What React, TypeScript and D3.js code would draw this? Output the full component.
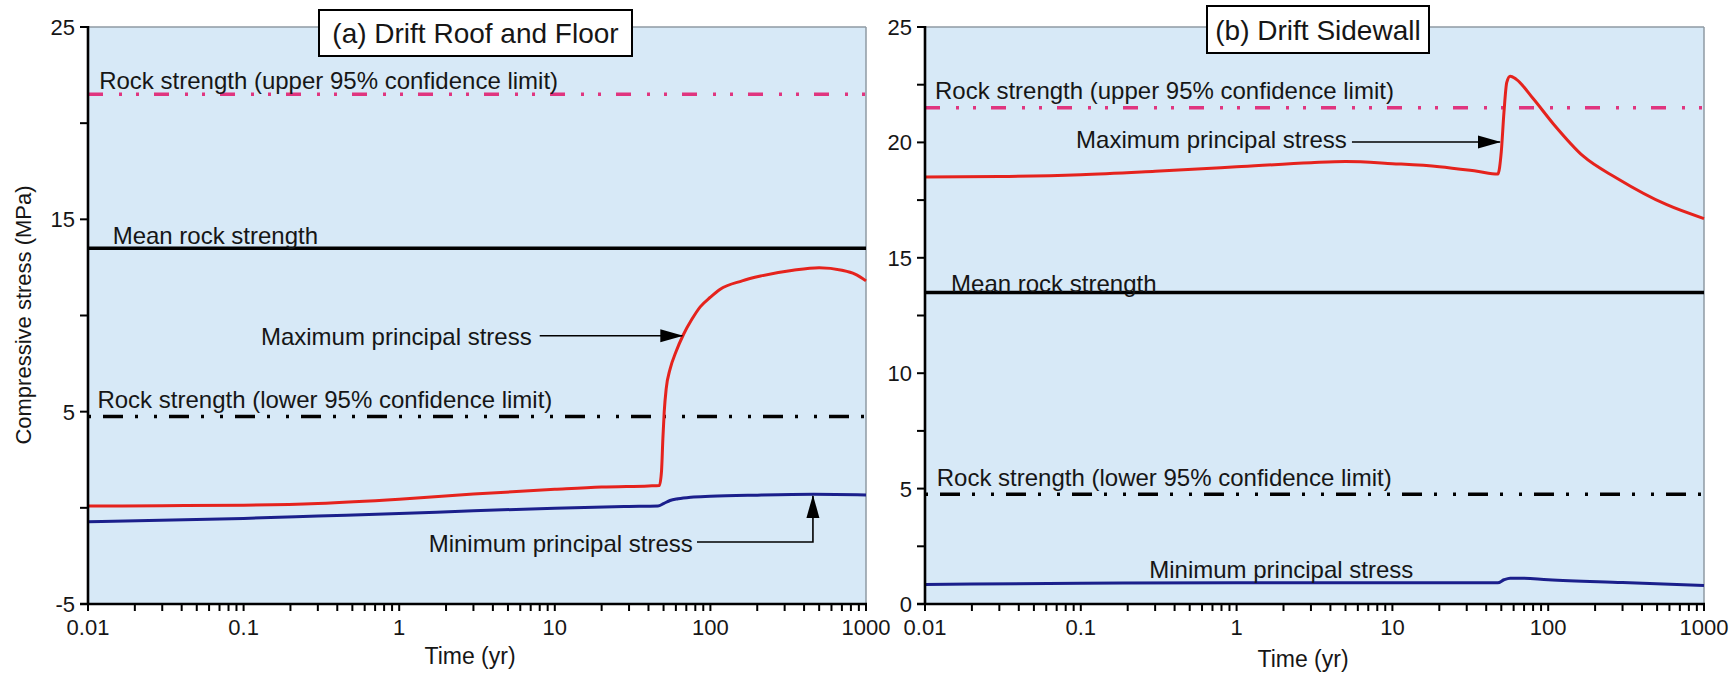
import React from 'react';
import * as d3 from 'd3';

const W = 1732;
const H = 674;

// ---- Data (time in years, stress in MPa) ----
// Panel (a) Drift Roof and Floor
const tMaxA = [0.01, 0.03, 0.1, 0.3, 1, 3, 10, 20, 40, 47, 48.5, 49.5, 50.5, 52, 55, 60, 67, 76, 86, 100, 115, 160, 210, 340, 500, 700, 850, 1000];
const sMaxA = [0.09, 0.11, 0.14, 0.23, 0.45, 0.72, 0.96, 1.08, 1.14, 1.16, 1.9, 3.6, 5.0, 6.2, 7.2, 8.1, 9.0, 9.8, 10.45, 10.95, 11.35, 11.8, 12.05, 12.35, 12.48, 12.35, 12.15, 11.8];
const tMinA = [0.01, 0.1, 0.3, 1, 3, 10, 30, 46, 50, 55, 62, 75, 100, 200, 460, 1000];
const sMinA = [-0.72, -0.55, -0.43, -0.3, -0.15, -0.02, 0.07, 0.1, 0.22, 0.38, 0.47, 0.55, 0.6, 0.66, 0.7, 0.67];

// Panel (b) Drift Sidewall
const tMaxB = [0.01, 0.03, 0.1, 0.3, 1, 3, 5, 10, 20, 35, 47.5, 50, 52, 54.2, 57, 62, 80, 108, 168, 276, 577, 1000];
const sMaxB = [18.5, 18.52, 18.6, 18.75, 18.94, 19.12, 19.17, 19.08, 18.95, 18.75, 18.63, 19.6, 21.3, 22.6, 22.87, 22.75, 21.9, 20.8, 19.4, 18.45, 17.3, 16.7];
const tMinB = [0.01, 0.1, 1, 10, 47.5, 52, 57, 65, 100, 300, 1000];
const sMinB = [0.85, 0.9, 0.92, 0.92, 0.92, 1.05, 1.12, 1.12, 1.05, 0.93, 0.8];

// Rock strength reference values (MPa)
const upperLimit = 21.5;
const meanStrength = 13.5;
const lowerLimit = 4.75;

// Axis ticks
const xDecades = [0.01, 0.1, 1, 10, 100, 1000];
const yMajorA = [-5, 5, 15, 25];
const yMinorA = [0, 10, 20];
const yMajorB = [0, 5, 10, 15, 20, 25];
const yMinorB = [2.5, 7.5, 12.5, 17.5, 22.5];

const titleA = '(a) Drift Roof and Floor';
const titleB = '(b) Drift Sidewall';
const labelUpper = 'Rock strength (upper 95% confidence limit)';
const labelLower = 'Rock strength (lower 95% confidence limit)';
const labelMean = 'Mean rock strength';
const labelMax = 'Maximum principal stress';
const labelMin = 'Minimum principal stress';

const FONT = 'Arial, "Liberation Sans", Helvetica, sans-serif';
const BG = '#d7e9f7';
const RED = '#e5231d';
const BLUE = '#1b1f8c';
const PINK = '#e0357f';
const TXT = '#161616';

const zip = (a: number[], b: number[]) => a.map((t, i) => [t, b[i]] as [number, number]);

type Ann = { text: string; t: number; v: number; anchor?: 'start' | 'end' };

interface PanelCfg {
  left: number;
  right: number;
  top: number;
  bottom: number;
  yDomain: [number, number];
  yMajor: number[];
  yMinor: number[];
  maxT: number[];
  maxS: number[];
  minT: number[];
  minS: number[];
  title: string;
  titleBox: [number, number, number, number];
  labels: Ann[];
  arrows: { pts: [number, number][] }[];
  timeLabel: [number, number];
}

function Panel({ c, id }: { c: PanelCfg; id: string }) {
  const x = d3.scaleLog().domain([0.01, 1000]).range([c.left, c.right]);
  const y = d3.scaleLinear().domain(c.yDomain).range([c.bottom, c.top]);
  const line = d3
    .line<[number, number]>()
    .x((d) => x(d[0]))
    .y((d) => y(d[1]))
    .curve(d3.curveMonotoneX);
  const straight = d3
    .line<[number, number]>()
    .x((d) => x(d[0]))
    .y((d) => y(d[1]));

  const minorX: number[] = [];
  xDecades.slice(0, -1).forEach((d) => {
    for (let k = 2; k <= 9; k++) minorX.push(d * k);
  });

  const [bx0, by0, bx1, by1] = c.titleBox;
  const tick = 8;

  return (
    <g>
      <rect x={c.left} y={c.top} width={c.right - c.left} height={c.bottom - c.top} fill={BG} />
      <line x1={c.left} x2={c.right} y1={c.top} y2={c.top} stroke="#8f9aa3" strokeWidth={1.5} />
      <line x1={c.right} x2={c.right} y1={c.top} y2={c.bottom} stroke="#8f9aa3" strokeWidth={1.5} />

      {/* reference lines */}
      <line x1={c.left} x2={c.right} y1={y(upperLimit)} y2={y(upperLimit)} stroke={PINK} strokeWidth={3.5} strokeDasharray="15 16 3 14 3 15" />
      <line x1={c.left} x2={c.right} y1={y(meanStrength)} y2={y(meanStrength)} stroke="#000" strokeWidth={3.5} />
      <line x1={c.left} x2={c.right} y1={y(lowerLimit)} y2={y(lowerLimit)} stroke="#000" strokeWidth={3.5} strokeDasharray="3 12 20 12 3 16" />

      {/* series */}
      <path d={line(zip(c.minT, c.minS)) || ''} fill="none" stroke={BLUE} strokeWidth={3} />
      <path d={line(zip(c.maxT, c.maxS)) || ''} fill="none" stroke={RED} strokeWidth={3} />

      {/* annotations */}
      {c.labels.map((l, i) => (
        <text key={i} x={x(l.t)} y={y(l.v)} fontSize={24} fill={TXT} textAnchor={l.anchor || 'start'} fontFamily={FONT}>
          {l.text}
        </text>
      ))}
      {c.arrows.map((a, i) => (
        <path key={i} d={straight(a.pts) || ''} fill="none" stroke="#000" strokeWidth={1.6} markerEnd={`url(#arrow-${id})`} />
      ))}

      {/* axes */}
      <line x1={c.left} x2={c.left} y1={c.top - 1} y2={c.bottom} stroke="#000" strokeWidth={2.6} />
      <line x1={c.left - tick} x2={c.right + 1} y1={c.bottom} y2={c.bottom} stroke="#000" strokeWidth={2.6} />
      {[...c.yMajor, ...c.yMinor].map((v) => (
        <line key={'yt' + v} x1={c.left - tick} x2={c.left} y1={y(v)} y2={y(v)} stroke="#000" strokeWidth={2} />
      ))}
      {c.yMajor.map((v) => (
        <text key={'yl' + v} x={c.left - 13} y={y(v)} dy="0.36em" textAnchor="end" fontSize={22} fill={TXT} fontFamily={FONT}>
          {v}
        </text>
      ))}
      {[...xDecades, ...minorX].map((t) => (
        <line key={'xt' + t} x1={x(t)} x2={x(t)} y1={c.bottom} y2={c.bottom + 7} stroke="#000" strokeWidth={2} />
      ))}
      {xDecades.map((t) => (
        <text key={'xl' + t} x={x(t)} y={c.bottom + 31} textAnchor="middle" fontSize={22} fill={TXT} fontFamily={FONT}>
          {String(t)}
        </text>
      ))}
      <text x={c.timeLabel[0]} y={c.timeLabel[1]} textAnchor="middle" fontSize={23} fill={TXT} fontFamily={FONT}>
        Time (yr)
      </text>

      {/* title box */}
      <rect x={bx0} y={by0} width={bx1 - bx0} height={by1 - by0} fill="#fff" stroke="#000" strokeWidth={2} />
      <text x={(bx0 + bx1) / 2} y={(by0 + by1) / 2} dy="0.36em" textAnchor="middle" fontSize={28} fill={TXT} fontFamily={FONT}>
        {c.title}
      </text>
    </g>
  );
}

const panelA: PanelCfg = {
  left: 88,
  right: 866,
  top: 27,
  bottom: 604,
  yDomain: [-5, 25],
  yMajor: yMajorA,
  yMinor: yMinorA,
  maxT: tMaxA,
  maxS: sMaxA,
  minT: tMinA,
  minS: sMinA,
  title: titleA,
  titleBox: [319, 10, 632, 56],
  labels: [
    { text: labelUpper, t: 0.0118, v: 21.76 },
    { text: labelMean, t: 0.0144, v: 13.72 },
    { text: labelMax, t: 7.1, v: 8.46, anchor: 'end' },
    { text: labelLower, t: 0.0115, v: 5.17 },
    { text: labelMin, t: 77, v: -2.28, anchor: 'end' },
  ],
  arrows: [
    { pts: [[8.0, 8.95], [66, 8.95]] },
    { pts: [[82, -1.78], [456, -1.78], [456, 0.62]] },
  ],
  timeLabel: [470, 664],
};

const panelB: PanelCfg = {
  left: 925,
  right: 1704,
  top: 27,
  bottom: 604,
  yDomain: [0, 25],
  yMajor: yMajorB,
  yMinor: yMinorB,
  maxT: tMaxB,
  maxS: sMaxB,
  minT: tMinB,
  minS: sMinB,
  title: titleB,
  titleBox: [1207, 6, 1429, 53],
  labels: [
    { text: labelUpper, t: 0.0116, v: 21.87 },
    { text: labelMax, t: 5.1, v: 19.74, anchor: 'end' },
    { text: labelMean, t: 0.0147, v: 13.53 },
    { text: labelLower, t: 0.0119, v: 5.11 },
    { text: labelMin, t: 0.275, v: 1.11 },
  ],
  arrows: [{ pts: [[5.5, 20.02], [49, 20.02]] }],
  timeLabel: [1303, 667],
};

export default function App() {
  return (
    <svg
      width={W}
      height={H}
      viewBox={`0 0 ${W} ${H}`}
      style={{ position: 'absolute', left: 0, top: 0, background: '#fff' }}
    >
      <defs>
        {['a', 'b'].map((id) => (
          <marker
            key={id}
            id={`arrow-${id}`}
            markerWidth={24}
            markerHeight={14}
            refX={22}
            refY={7}
            orient="auto"
            markerUnits="userSpaceOnUse"
          >
            <path d="M0,0.5 L23,7 L0,13.5 Z" fill="#000" />
          </marker>
        ))}
      </defs>
      <rect x={0} y={0} width={W} height={H} fill="#fff" />
      <Panel c={panelA} id="a" />
      <Panel c={panelB} id="b" />
      <text
        transform={`translate(31, 315) rotate(-90)`}
        textAnchor="middle"
        fontSize={22}
        fill={TXT}
        fontFamily={FONT}
      >
        Compressive stress (MPa)
      </text>
    </svg>
  );
}
